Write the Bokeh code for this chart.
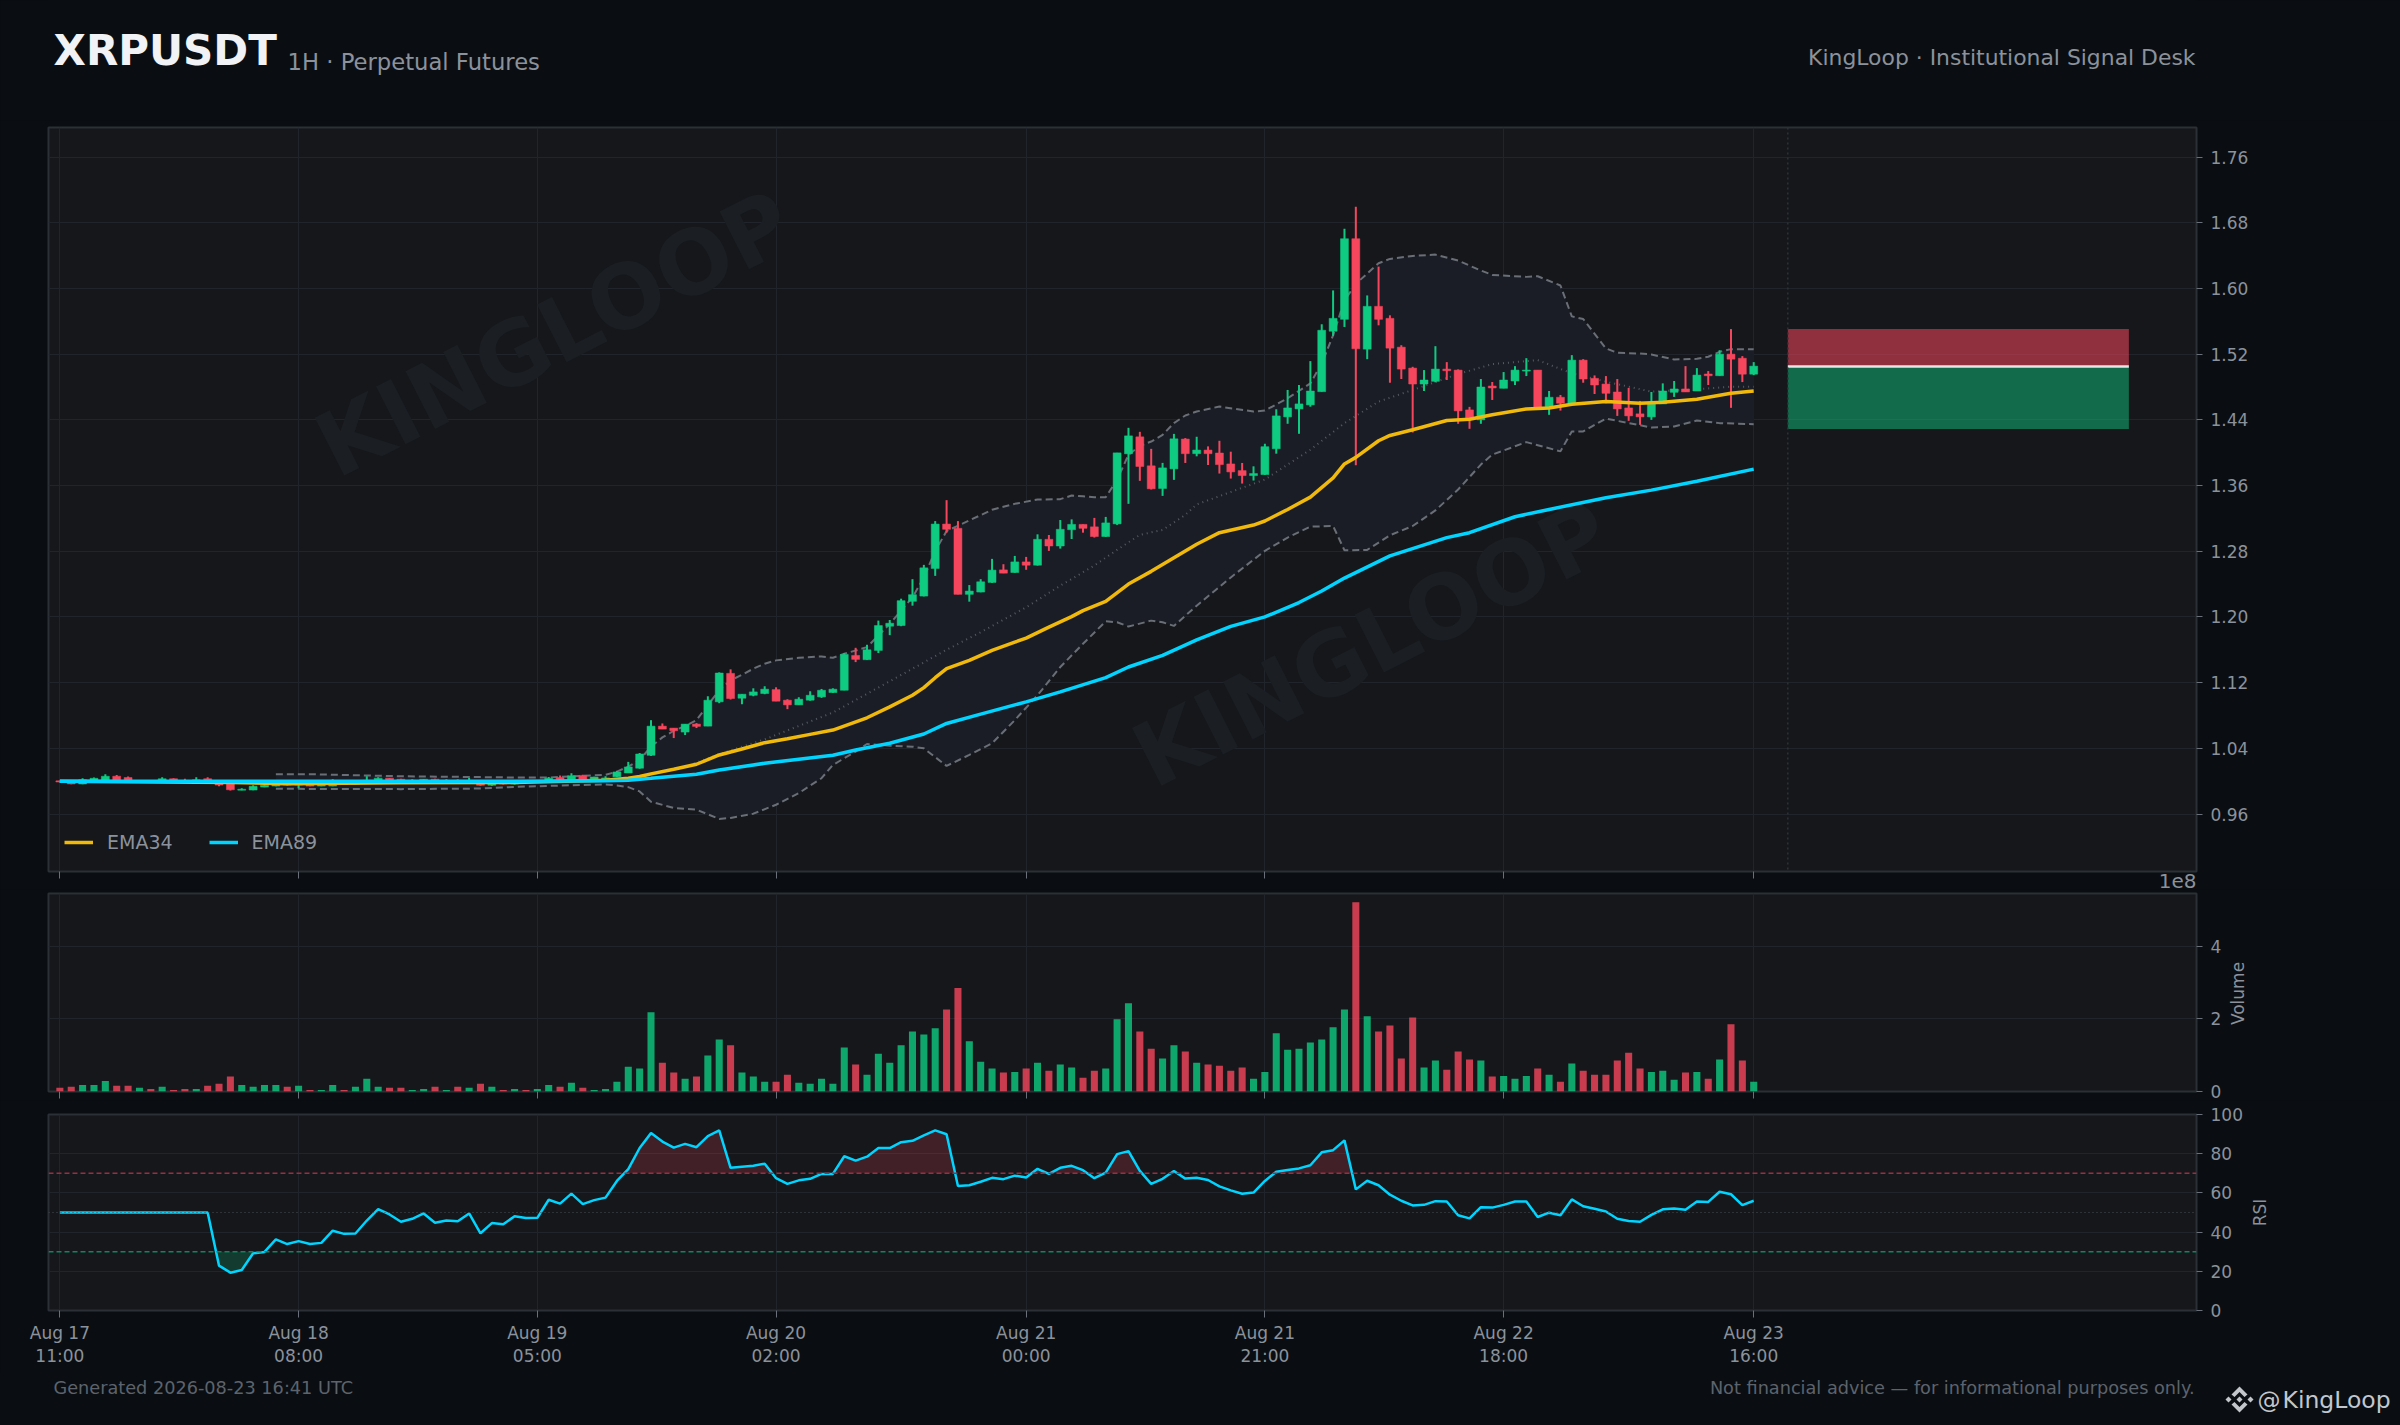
from bokeh.plotting import figure
from bokeh.layouts import column, row
from bokeh.models import Label, Legend, LegendItem, LinearAxis, Range1d, FixedTicker, NumeralTickFormatter, PolyAnnotation, Span
from bokeh.embed import file_html
from bokeh.resources import INLINE
from bokeh.core.properties import value
import math

symbol = "XRPUSDT"
subtitle = "1H · Perpetual Futures"
desk = "KingLoop · Institutional Signal Desk"
generated = "Generated 2026-08-23 16:41 UTC"
disclaimer = "Not financial advice — for informational purposes only."
tick_idx = [0, 21, 42, 63, 85, 106, 127, 149]
tick_dates = ["Aug 17", "Aug 18", "Aug 19", "Aug 20", "Aug 21", "Aug 21", "Aug 22", "Aug 23"]
tick_hours = ["11:00", "08:00", "05:00", "02:00", "00:00", "21:00", "18:00", "16:00"]
price_ticks = [0.96, 1.04, 1.12, 1.20, 1.28, 1.36, 1.44, 1.52, 1.60, 1.68, 1.76]

opens = [1.0004,0.9992,0.9966,1.0005,1.0010,1.0060,1.0045,0.9998,1.0004,0.9996,
1.0030,1.0004,0.9996,1.0030,0.9996,0.9965,0.9890,0.9892,0.9928,0.9940,
0.9976,0.9952,0.9972,0.9940,0.9940,0.9974,0.9962,0.9985,1.0008,1.0037,
1.0024,0.9995,0.9995,1.0024,0.9995,1.0010,0.9985,0.9976,0.9950,0.9976,
0.9965,1.0000,0.9992,1.0008,1.0045,1.0016,1.0070,1.0016,1.0022,1.0053,
1.0100,1.0158,1.0315,1.0670,1.0646,1.0598,1.0695,1.0670,1.0966,1.1313,
1.1010,1.1046,1.1067,1.1115,1.0986,1.0929,1.0986,1.1026,1.1079,1.1107,
1.1531,1.1479,1.1592,1.1887,1.1895,1.2190,1.2254,1.2590,1.3131,1.3079,
1.2275,1.2303,1.2420,1.2573,1.2541,1.2670,1.2630,1.2945,1.2864,1.3062,
1.3127,1.3097,1.2979,1.3133,1.3986,1.4193,1.3840,1.3564,1.3803,1.4166,
1.3988,1.4032,1.3996,1.3863,1.3782,1.3721,1.3733,1.4048,1.4436,1.4533,
1.4582,1.4743,1.5479,1.5624,1.6606,1.5261,1.5782,1.5636,1.5285,1.5030,
1.4836,1.4869,1.5018,1.5006,1.4521,1.4400,1.4812,1.4784,1.4873,1.4994,
1.5006,1.4541,1.4675,1.4602,1.5127,1.4905,1.4836,1.4739,1.4545,1.4473,
1.4436,1.4594,1.4735,1.4776,1.4751,1.4958,1.4937,1.5200,1.5150,1.4956]
highs = [1.0006,0.9996,1.0035,1.0045,1.0085,1.0075,1.0058,1.0012,1.0012,1.0048,
1.0035,1.0030,1.0048,1.0048,1.0000,0.9982,0.9915,0.9950,0.9968,0.9985,
0.9985,0.9986,0.9990,0.9990,1.0024,0.9985,0.9990,1.0061,1.0049,1.0040,
1.0028,1.0024,1.0026,1.0030,1.0024,1.0024,1.0040,0.9985,0.9985,0.9985,
0.9992,1.0008,1.0015,1.0050,1.0070,1.0097,1.0078,1.0055,1.0060,1.0125,
1.0235,1.0343,1.0743,1.0703,1.0646,1.0695,1.0707,1.1034,1.1325,1.1362,
1.1059,1.1131,1.1156,1.1143,1.0998,1.1022,1.1095,1.1123,1.1131,1.1559,
1.1624,1.1661,1.1955,1.1963,1.2222,1.2460,1.2634,1.3167,1.3422,1.3167,
1.2388,1.2460,1.2707,1.2642,1.2743,1.2731,1.3006,1.2998,1.3180,1.3188,
1.3127,1.3206,1.3218,1.3998,1.4303,1.4254,1.4047,1.3876,1.4229,1.4178,
1.4194,1.4077,1.4145,1.4012,1.3875,1.3834,1.4109,1.4529,1.4764,1.4824,
1.5115,1.5564,1.5976,1.6727,1.6994,1.5915,1.6266,1.5673,1.5309,1.5046,
1.5006,1.5297,1.5103,1.5014,1.4558,1.4897,1.4861,1.4982,1.5054,1.5151,
1.5006,1.4751,1.4703,1.5188,1.5139,1.4941,1.4933,1.4897,1.4788,1.4630,
1.4739,1.4844,1.4873,1.5054,1.5030,1.4994,1.5248,1.5505,1.5176,1.5103]
lows = [0.9985,0.9962,0.9962,0.9995,0.9985,1.0005,1.0000,0.9992,0.9985,0.9985,
0.9995,0.9990,0.9992,0.9990,0.9938,0.9886,0.9888,0.9890,0.9925,0.9938,
0.9948,0.9915,0.9938,0.9938,0.9938,0.9955,0.9955,0.9978,0.9995,0.9995,
0.9995,0.9990,0.9990,0.9990,0.9990,0.9990,0.9980,0.9945,0.9945,0.9960,
0.9960,0.9985,0.9988,1.0004,1.0000,1.0010,1.0020,1.0012,1.0018,1.0050,
1.0098,1.0150,1.0307,1.0634,1.0525,1.0562,1.0647,1.0670,1.0950,1.0994,
1.0937,1.1034,1.1059,1.0974,1.0877,1.0929,1.0980,1.1014,1.1075,1.1107,
1.1450,1.1475,1.1560,1.1778,1.1887,1.2137,1.2250,1.2500,1.3026,1.2275,
1.2186,1.2300,1.2415,1.2533,1.2538,1.2574,1.2625,1.2804,1.2832,1.2949,
1.3026,1.2967,1.2975,1.3121,1.3377,1.3657,1.3552,1.3474,1.3669,1.3875,
1.3956,1.3850,1.3746,1.3685,1.3624,1.3661,1.3730,1.3988,1.4352,1.4230,
1.4560,1.4743,1.5422,1.5531,1.3847,1.5139,1.5551,1.4852,1.4897,1.4246,
1.4751,1.4857,1.4885,1.4352,1.4291,1.4352,1.4642,1.4784,1.4824,1.4933,
1.4541,1.4461,1.4513,1.4600,1.4852,1.4715,1.4602,1.4448,1.4388,1.4339,
1.4400,1.4594,1.4679,1.4740,1.4751,1.4824,1.4937,1.4546,1.4860,1.4944]
closes = [0.9990,0.9966,1.0016,1.0035,1.0060,1.0012,1.0010,1.0005,0.9994,1.0030,
1.0002,0.9996,1.0016,0.9996,0.9952,0.9895,0.9902,0.9938,0.9951,0.9976,
0.9952,0.9976,0.9940,0.9972,0.9972,0.9962,0.9982,1.0010,1.0037,1.0008,
1.0000,1.0010,1.0024,0.9995,1.0005,0.9995,0.9998,0.9950,0.9976,0.9965,
0.9985,0.9990,1.0008,1.0036,1.0020,1.0065,1.0024,1.0050,1.0040,1.0113,
1.0174,1.0331,1.0670,1.0634,1.0614,1.0695,1.0667,1.0986,1.1317,1.1006,
1.1059,1.1087,1.1120,1.0974,1.0929,1.0998,1.1046,1.1107,1.1120,1.1543,
1.1483,1.1600,1.1895,1.1923,1.2198,1.2271,1.2598,1.3131,1.3067,1.2275,
1.2315,1.2428,1.2570,1.2533,1.2670,1.2630,1.2945,1.2864,1.3067,1.3127,
1.3079,1.2979,1.3145,1.3998,1.4205,1.3832,1.3560,1.3815,1.4169,1.3988,
1.4032,1.3988,1.3855,1.3766,1.3721,1.3746,1.4073,1.4448,1.4545,1.4594,
1.4751,1.5491,1.5636,1.6606,1.5265,1.5782,1.5624,1.5273,1.5018,1.4836,
1.4885,1.5018,1.4998,1.4509,1.4416,1.4800,1.4788,1.4885,1.5006,1.5006,
1.4541,1.4675,1.4602,1.5127,1.4897,1.4824,1.4723,1.4533,1.4448,1.4436,
1.4594,1.4751,1.4776,1.4740,1.4945,1.4937,1.5200,1.5139,1.4956,1.5054]

volume_1e8 = [.10,.13,.18,.18,.29,.16,.16,.10,.07,.13,.04,.07,.07,.16,.21,.41,.18,.13,.18,.18,
.13,.16,.04,.04,.18,.04,.13,.35,.13,.10,.10,.04,.07,.13,.04,.13,.10,.21,.13,.04,
.07,.04,.07,.18,.13,.24,.10,.04,.07,.27,.68,.63,2.18,.79,.52,.35,.41,.99,1.43,1.27,
.52,.41,.27,.27,.46,.24,.21,.35,.21,1.21,.74,.46,1.04,.79,1.27,1.65,1.57,1.74,2.26,2.85,
1.38,.82,.63,.52,.54,.63,.79,.57,.74,.66,.38,.57,.63,1.99,2.43,1.65,1.18,.91,1.27,1.10,
.79,.74,.71,.57,.66,.35,.54,1.60,1.15,1.18,1.35,1.43,1.77,2.26,5.21,2.07,1.65,1.82,.91,2.04,
.66,.85,.60,1.10,.88,.85,.41,.43,.35,.43,.63,.46,.27,.77,.57,.46,.46,.85,1.07,.63,
.54,.57,.32,.52,.54,.35,.88,1.85,.85,.27]

rsi = [50.0]*14 + [22.9,19.3,20.7,29.2,29.9,36.3,33.9,35.4,33.9,34.5,40.7,39.1,39.3,45.9,51.7,49.0,
45.3,46.8,49.5,44.8,45.9,45.5,49.5,39.4,44.6,44.0,48.1,47.2,47.3,56.5,54.5,59.6,54.3,56.3,57.6,66.1,
72.1,82.9,90.5,86.2,83.1,85.0,83.3,89.0,91.9,72.8,73.4,73.9,74.9,67.5,64.6,66.4,67.2,69.7,69.7,78.7,
76.5,78.5,82.9,82.9,85.9,86.6,89.4,91.9,89.9,63.5,63.9,65.7,67.7,67.0,68.8,67.9,72.3,69.7,72.8,73.8,
71.6,67.5,70.3,79.8,81.3,71.2,64.6,67.2,71.2,67.3,67.7,66.6,63.3,61.3,59.6,60.2,66.1,70.8,71.7,72.5,
74.1,80.7,81.8,86.8,61.8,66.2,63.9,59.1,56.0,53.6,53.9,55.8,55.6,48.6,47.0,52.7,52.5,53.9,55.6,55.6,
47.7,49.9,48.6,56.7,53.2,51.9,50.5,46.8,45.7,45.3,48.8,51.6,52.1,51.4,55.6,55.4,60.6,59.3,53.8,56.0]

ema34_x = [0,15,20,30,40,48,50,51,52,54,56,58,60,62,64,66,68,71,73,75,76,77,78,80,82,84,85,87,89,90,92,94,96,98,100,102,105,106,108,110,112,113,114,116,117,119,122,124,126,129,131,133,136,139,141,144,147,149]
ema34_y = [1.0,.9985,.997,.998,.9985,1.001,1.0036,1.0057,1.0089,1.0145,1.0206,1.0319,1.0392,1.0469,1.0517,1.057,1.0622,1.0772,1.0905,1.1046,1.1139,1.126,1.137,1.1471,1.1592,1.1693,1.1741,1.1875,1.2004,1.2077,1.219,1.24,1.2555,1.272,1.2885,1.3026,1.3119,1.3168,1.3309,1.3459,1.3693,1.3863,1.3943,1.4145,1.421,1.4279,1.4392,1.4408,1.4461,1.4533,1.4545,1.459,1.4622,1.4602,1.4614,1.465,1.4723,1.475]
ema89_x = [0,20,40,48,50,52,56,58,62,68,70,73,76,78,81,85,88,92,94,97,100,103,106,109,111,113,117,122,124,128,131,136,140,144,149]
ema89_y = [1.0,1.0,1.0,1.0004,1.0012,1.0036,1.0085,1.0137,1.0218,1.0315,1.038,1.0461,1.0574,1.0703,1.0816,1.0966,1.1087,1.126,1.139,1.1531,1.172,1.1885,1.2,1.2175,1.2315,1.2473,1.2744,1.2966,1.3026,1.322,1.3309,1.3451,1.3544,1.3653,1.38]

upper_x = [19,22,25,30,40,43,48,49,50,51,52,53,54,55,56,57,58,59,60,61,62,63,65,67,68,69,71,72,73,74,75,76,77,78,80,82,84,86,88,89,90,91,92,93,94,95,96,97,98,99,100,102,105,106,108,110,111,112,113,114,116,117,119,121,123,125,126,129,130,132,133,134,136,137,139,140,142,144,145,146,147,149]
upper_y = [1.0085,1.0085,1.0075,1.006,1.0045,1.0045,1.0077,1.0117,1.0178,1.0259,1.042,1.0533,1.0614,1.0671,1.0743,1.0925,1.1107,1.1228,1.1295,1.137,1.143,1.1471,1.1503,1.1519,1.1503,1.1551,1.1632,1.1774,1.1915,1.2077,1.2238,1.2481,1.2804,1.3046,1.3175,1.3305,1.3377,1.343,1.3434,1.3478,1.347,1.3458,1.3458,1.367,1.3974,1.4083,1.4136,1.4217,1.436,1.4453,1.4501,1.4562,1.4501,1.4513,1.4663,1.4844,1.5087,1.543,1.5854,1.6056,1.6307,1.636,1.6396,1.6412,1.6339,1.6218,1.6165,1.6141,1.6149,1.6036,1.566,1.5628,1.5269,1.5216,1.5208,1.5196,1.5135,1.5143,1.5168,1.5228,1.5261,1.526]
lower_x = [19,30,37,40,45,48,49,50,51,52,54,56,58,59,61,63,65,67,68,70,71,73,75,76,78,80,82,84,86,88,90,92,93,94,96,97,98,100,103,106,108,110,112,113,115,117,119,121,123,125,126,129,132,133,134,136,138,140,142,144,146,149]
lower_y = [.9907,.9903,.991,.993,.995,.996,.9948,.9927,.9875,.9750,.9673,.9653,.954,.9552,.9604,.9713,.9855,1.0036,1.0198,1.036,1.0453,1.0432,1.042,1.04,1.0186,1.0319,1.0461,1.0743,1.1046,1.139,1.1673,1.1947,1.1935,1.1883,1.1955,1.1935,1.1891,1.2137,1.2481,1.2804,1.2966,1.3099,1.3107,1.2812,1.2816,1.2994,1.3107,1.3297,1.3552,1.3855,1.3976,1.4129,1.4016,1.4259,1.4259,1.4416,1.436,1.4307,1.4319,1.4392,1.436,1.4347]
mid_x = [19,30,40,48,50,52,55,58,60,62,68,73,78,81,85,88,91,93,95,97,99,100,106,110,113,116,119,123,126,130,133,136,140,144,147,149]
mid_y = [.9995,1.0,.9995,1.0005,1.003,1.008,1.0175,1.033,1.042,1.0509,1.0836,1.1216,1.16,1.1814,1.2117,1.238,1.2626,1.2817,1.2999,1.306,1.3243,1.337,1.3673,1.4036,1.436,1.4622,1.4764,1.4958,1.5079,1.5127,1.4966,1.4865,1.4743,1.4772,1.4804,1.4804]

zone_left, zone_right = 152, 182
zone_top, zone_entry, zone_bottom = 1.5505, 1.505, 1.4287

PAGE = "#0a0e12"; PANEL = "#15171b"; GRID = "#21252b"; EDGE = "#2b3037"; TEXT = "#8b929c"; MUTED = "#5d636c"
UP = "#0ecb81"; DOWN = "#f6465d"; EMA34C = "#f0b90b"; EMA89C = "#00d4ff"; FONT = "DejaVu Sans"
WIDTH = 2400; LEFT = 48; RIGHT = 204
xr = Range1d(-1, 187.95)
n = len(closes)
idx = list(range(n))
is_up = [c >= o for o, c in zip(opens, closes)]
cols = [UP if u else DOWN for u in is_up]

def style_axis(ax):
    ax.axis_line_color = None
    ax.major_tick_line_color = "#6a7079"
    ax.major_tick_line_width = 1
    ax.major_tick_in = 0
    ax.minor_tick_line_color = None
    ax.major_label_text_color = TEXT
    ax.major_label_text_font = FONT
    ax.major_label_text_font_size = "17px"

def panel(height, top, bottom, y_range, xticks):
    p = figure(width=WIDTH, height=height, x_range=xr, y_range=y_range, tools="", toolbar_location=None,
               output_backend="svg", y_axis_location="right", min_border_left=LEFT, min_border_right=RIGHT,
               min_border_top=top, min_border_bottom=bottom, background_fill_color=PANEL, border_fill_color=PAGE,
               outline_line_color=EDGE, outline_line_width=2)
    p.xaxis.ticker = FixedTicker(ticks=tick_idx)
    p.xaxis.major_label_overrides = xticks
    style_axis(p.xaxis[0])
    style_axis(p.yaxis[0])
    p.xaxis.major_tick_out = 7
    p.yaxis.major_tick_out = 6
    p.yaxis.major_label_standoff = 8
    p.grid.grid_line_color = GRID
    p.grid.grid_line_width = 1
    return p

def band(x0, x1, y0, y1):
    # a strip of the page whose frame is the strip itself, addressed in page pixels
    f = figure(width=x1 - x0, height=y1 - y0, x_range=Range1d(x0, x1), y_range=Range1d(y1, y0), tools="",
               toolbar_location=None, output_backend="svg", x_axis_location=None, y_axis_location=None,
               min_border=0, background_fill_color=PAGE, border_fill_color=PAGE, outline_line_color=None)
    f.grid.visible = False
    return f

def label(p, x, y, text, size, color, align="left", style="normal"):
    p.add_layout(Label(x=x, y=y, text=text, text_font=FONT, text_font_size=size, text_color=color,
                       text_align=align, text_baseline="middle", text_font_style=style))

def side_label(p, fig_top, x, y, text, size, angle=0.0, align="center"):
    p.add_layout(Label(x=x, y=y - fig_top, x_units="canvas", y_units="canvas", text=text, text_font=FONT,
                       text_font_size=size, text_color=TEXT, text_align=align, text_baseline="middle", angle=angle), "right")

# ---------- header
head = band(0, WIDTH, 0, 120)
head.x_range = Range1d(48, 2196)
label(head, 53, 49.5, symbol, "42px", "#f0f2f5", style="bold")
label(head, 287, 61.5, subtitle, "22.7px", TEXT)
label(head, 2195, 56.5, desk, "21.9px", TEXT, align="right")

# ---------- main  (page y 120 .. 889, frame 127 .. 871)
blank = {i: "" for i in tick_idx}
p1 = panel(769, 7, 18, Range1d(0.89, 1.796), blank)
p1.xaxis.major_label_text_font_size = "1px"
p1.xaxis.major_label_standoff = 0
p1.yaxis.ticker = FixedTicker(ticks=price_ticks)
p1.yaxis.formatter = NumeralTickFormatter(format="0.00")

for ix, iy in [(43.5, 1.545), (115.4, 1.167)]:
    p1.text(x=[ix], y=[iy], text=["KINGLOOP"], angle=math.radians(27), text_align="center", text_baseline="middle",
            text_font=value(FONT), text_font_style="bold", text_font_size="89px", text_color="#1b1f24")

p1.patch(upper_x + lower_x[::-1], upper_y + lower_y[::-1], fill_color="#1a1d26", line_color=None)
p1.line(mid_x, mid_y, line_color="#565a62", line_width=2, line_dash="1 4")
p1.line(upper_x, upper_y, line_color="#6a6e76", line_width=2, line_dash="7 4")
p1.line(lower_x, lower_y, line_color="#6a6e76", line_width=2, line_dash="7 4")

p1.segment(idx, lows, idx, highs, line_color=cols, line_width=2)
p1.vbar(x=idx, width=0.7, bottom=opens, top=closes, fill_color=cols, line_color=cols, line_width=0.5)

r34 = p1.line(ema34_x, ema34_y, line_color=EMA34C, line_width=3.5)
r89 = p1.line(ema89_x, ema89_y, line_color=EMA89C, line_width=3.5)

p1.add_layout(Span(location=zone_left, dimension="height", line_color="#2d3338", line_width=1.5, line_dash="2 3"))
p1.quad(left=[zone_left], right=[zone_right], bottom=[zone_entry], top=[zone_top], fill_color=DOWN, fill_alpha=0.55, line_color=None)
p1.quad(left=[zone_left], right=[zone_right], bottom=[zone_bottom], top=[zone_entry], fill_color=UP, fill_alpha=0.47, line_color=None)
p1.segment([zone_left], [zone_entry], [zone_right], [zone_entry], line_color="#e6e6e6", line_width=2.5)

leg = Legend(items=[LegendItem(label="EMA34", renderers=[r34]), LegendItem(label="EMA89", renderers=[r89])],
             orientation="horizontal", location=(16, 18), padding=0, margin=0, spacing=36, glyph_width=29,
             glyph_height=20, label_standoff=14, label_text_font=FONT, label_text_font_size="19px",
             label_text_color=TEXT, background_fill_alpha=0, border_line_color=None, label_height=20)
p1.add_layout(leg)
side_label(p1, 120, 2196, 880, "1e8", "20px", align="right")

# ---------- volume  (page y 889 .. 1100, frame 893 .. 1091)
p2 = panel(211, 4, 9, Range1d(0, 5.45), blank)
p2.xaxis.major_label_text_font_size = "1px"
p2.xaxis.major_label_standoff = 0
p2.yaxis.ticker = FixedTicker(ticks=[0, 2, 4])
p2.vbar(x=idx, width=0.62, bottom=0, top=volume_1e8, fill_color=cols, fill_alpha=0.8, line_color=None)
side_label(p2, 889, 2237, 993, "Volume", "17px", angle=math.pi / 2)

# ---------- RSI  (page y 1100 .. 1372, frame 1114 .. 1310)
p3 = panel(272, 14, 62, Range1d(0, 100), dict(zip(tick_idx, tick_dates)))
p3.yaxis.ticker = FixedTicker(ticks=[0, 20, 40, 60, 80, 100])
p3.xaxis.major_label_standoff = 5
hours_axis = LinearAxis(ticker=FixedTicker(ticks=tick_idx), major_label_overrides=dict(zip(tick_idx, tick_hours)))
style_axis(hours_axis)
hours_axis.major_tick_line_color = None
hours_axis.major_tick_out = 0
hours_axis.major_label_standoff = 0
p3.add_layout(hours_axis, "below")

def clipped(level, above):
    xs, ys = [], []
    for i in idx:
        if i:
            a, b = rsi[i - 1], rsi[i]
            if (a - level) * (b - level) < 0:
                xs.append(i - 1 + (level - a) / (b - a)); ys.append(level)
        xs.append(i); ys.append(max(rsi[i], level) if above else min(rsi[i], level))
    return xs, ys

xh, yh = clipped(70, True)
p3.varea(x=xh, y1=[70] * len(xh), y2=yh, fill_color=DOWN, fill_alpha=0.2)
xl, yl = clipped(30, False)
p3.varea(x=xl, y1=[30] * len(xl), y2=yl, fill_color=UP, fill_alpha=0.2)
p3.add_layout(Span(location=70, dimension="width", line_color="#9b2f42", line_width=1.6, line_dash="5 3"))
p3.add_layout(Span(location=30, dimension="width", line_color="#0e8560", line_width=1.6, line_dash="5 3"))
p3.add_layout(Span(location=50, dimension="width", line_color="#4a4e55", line_width=1, line_dash="1 3"))
p3.line(idx, rsi, line_color=EMA89C, line_width=2.5)
side_label(p3, 1100, 2259, 1212, "RSI", "17px", angle=math.pi / 2)

# ---------- footer: texts in one strip, brand mark in the next
foot = band(0, 2205, 1372, 1425)
label(foot, 53, 1387, generated, "17.7px", MUTED)
label(foot, 2194, 1387, disclaimer, "17.7px", MUTED, align="right")

brand = band(2205, 2400, 1372, 1425)
label(brand, 2257, 1399, "@", "23px", "#c3c7cb")
label(brand, 2282, 1399, "KingLoop", "23.5px", "#c3c7cb")
cx, cy = 2239, 1399
marks = [[(0,-13),(8,-5),(5,-2.5),(0,-7.5),(-5,-2.5),(-8,-5)],
         [(0,13),(8,5),(5,2.5),(0,7.5),(-5,2.5),(-8,5)],
         [(-3,0),(0,-3),(3,0),(0,3)],
         [(-14,0),(-11,-3),(-8,0),(-11,3)],
         [(14,0),(11,-3),(8,0),(11,3)]]
for m in marks:
    brand.add_layout(PolyAnnotation(xs=[cx + a for a, _ in m], ys=[cy + b for _, b in m],
                                    fill_color="#c3c7cb", fill_alpha=1, line_color=None))

root = column(head, p1, p2, p3, row(foot, brand, spacing=0), spacing=0)
html = file_html(root, INLINE, title="XRPUSDT")
html = html.replace("<head>", "<head><style>html,body{background:#0a0e12;overflow:hidden;margin:0;padding:0}</style>", 1)
open("out.html", "w").write(html)
